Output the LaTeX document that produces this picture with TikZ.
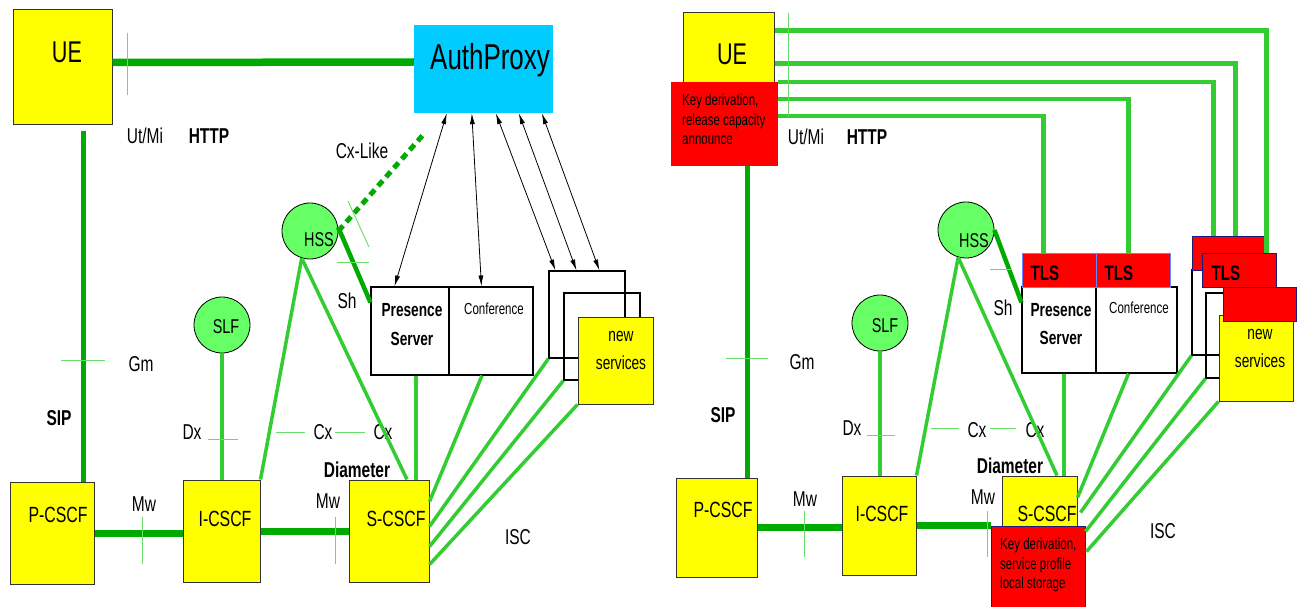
\documentclass[tikz,border=0pt]{standalone}
\usepackage{fontspec}
\setmainfont{Liberation Sans}[FakeStretch=0.72]
\usetikzlibrary{arrows.meta,positioning,calc}
\definecolor{boxyellow}{HTML}{FFFF00}
\definecolor{proxycyan}{HTML}{00CCFF}
\definecolor{sipgreen}{HTML}{00AA00}
\definecolor{linkgreen}{HTML}{33CC33}
\definecolor{tickgreen}{HTML}{66DD66}
\definecolor{dbgreen}{HTML}{66FF66}
\definecolor{keyred}{HTML}{FF0000}
\definecolor{tlsblue}{HTML}{6688FF}
\definecolor{stacknavy}{HTML}{1A1A80}
\tikzset{
  boxsize/.style 2 args={minimum width=#1pt, minimum height=#2pt},
  netbox/.style={draw=black!80, fill=boxyellow, line width=1pt, inner sep=0pt},
  keybox/.style={fill=keyred, inner sep=0pt},
  tlsbox/.style={draw=tlsblue, fill=keyred, line width=0.9pt, inner sep=0pt},
  stackred/.style={draw=stacknavy, fill=keyred, line width=0.9pt, inner sep=0pt},
  appbox/.style={draw=black, fill=white, line width=1.1pt, inner sep=0pt},
  stackbox/.style={draw=black, line width=1.1pt, inner sep=0pt},
  dbnode/.style={circle, draw=black, fill=dbgreen, line width=0.8pt,
    minimum size=56pt, inner sep=0pt},
  % texts
  lbl/.style={anchor=base, inner sep=0pt, font=\fontsize{21.5}{22}\selectfont},
  blbl/.style={anchor=base, inner sep=0pt, font=\fontsize{21.5}{22}\selectfont\bfseries},
  cscftxt/.style={anchor=base, inner sep=0pt, font=\fontsize{22}{22}\selectfont},
  dbtxt/.style={anchor=base, inner sep=0pt, font=\fontsize{20}{20}\selectfont},
  keytxt/.style={anchor=north west, inner sep=0pt, align=left,
    font=\fontsize{16}{19.5}\selectfont},
  tlstxt/.style={anchor=base, inner sep=0pt, font=\fontsize{21}{21}\selectfont\bfseries},
  % connectors
  sipline/.style={sipgreen, line width=5pt},
  mwline/.style={sipgreen, line width=7pt},
  shline/.style={sipgreen, line width=4.5pt},
  link/.style={linkgreen, line width=3.5pt},
  tlsline/.style={linkgreen, line width=4.5pt},
  tick/.style={tickgreen, line width=0.9pt},
  httparrow/.style={{Latex[length=11pt,width=5pt]}-{Latex[length=11pt,width=5pt]},
    black, line width=0.8pt},
}
\begin{document}
\begin{tikzpicture}[x=1pt,y=-1pt]
  \useasboundingbox (0,0) rectangle (1301,607);
  % ===== left: plain IMS with AuthProxy =====
  \node[netbox, boxsize={99}{115}] (ueL) at (62.5,67.5) {};
  \node[fill=proxycyan, inner sep=0pt, boxsize={139}{88}] (proxyL) at (483.5,69) {};
  \node[dbnode] (hssL) at (310,231) {};
  \node[dbnode] (slfL) at (222,325) {};
  \node[netbox, boxsize={84}{102}] (pcscfL) at (52,533) {};
  \node[netbox, boxsize={77}{102}] (icscfL) at (221.5,531) {};
  \node[netbox, boxsize={80}{102}] (scscfL) at (389,531) {};
  \node[appbox, boxsize={78}{88}] (presL) at (410,331) {};
  \node[appbox, boxsize={84}{88}] (confL) at (491,331) {};
  \node[stackbox, boxsize={76}{87}] (svc1L) at (587,314.5) {};
  \node[stackbox, boxsize={76}{87}] (svc2L) at (602,336.5) {};
  \node[netbox, boxsize={75}{87}] (newL) at (615.5,360.5) {};

  % texts
  \node[lbl, font=\fontsize{30}{30}\selectfont] (ueLtxt) at (67,63) {UE};
  \node[lbl, font=\fontsize{36}{36}\selectfont] (proxyLtxt) at (490,70) {AuthProxy};
  \node[dbtxt] (hssLtxt) at (319,246) {HSS};
  \node[dbtxt] (slfLtxt) at (226,333) {SLF};
  \node[cscftxt] (pcscfLtxt) at (58,522) {P-CSCF};
  \node[cscftxt] (icscfLtxt) at (225,526) {I-CSCF};
  \node[cscftxt] (scscfLtxt) at (396,526) {S-CSCF};
  \node[anchor=north, inner sep=0pt, align=center,
        font=\fontsize{19}{29}\selectfont\bfseries] (presLtxt) at (412,303) {Presence\\Server};
  \node[anchor=base, inner sep=0pt, font=\fontsize{16}{16}\selectfont] (confLtxt) at (494,314) {Conference};
  \node[anchor=north, inner sep=0pt, align=center,
        font=\fontsize{19}{28}\selectfont] (newLtxt) at (621,331) {new\\services};
  \node[lbl] (utmiL) at (145,143) {Ut/Mi};
  \node[blbl] (httpL) at (209,143) {HTTP};
  \node[lbl] (cxlike) at (362,158) {Cx-Like};
  \node[lbl] (gmL) at (141,371) {Gm};
  \node[blbl] (sipL) at (59,425) {SIP};
  \node[lbl] (dxL) at (192,439) {Dx};
  \node[lbl] (cxLa) at (323,439) {Cx};
  \node[lbl] (cxLb) at (383,439) {Cx};
  \node[blbl] (diamL) at (357,477) {Diameter};
  \node[lbl] (mwLa) at (144,511) {Mw};
  \node[lbl] (mwLb) at (328,508) {Mw};
  \node[lbl] (iscL) at (518,544) {ISC};
  \node[lbl] (shL) at (347,308) {Sh};

  % connectors
  \draw[sipgreen, line width=7.5pt] ($(ueL.east)+(0,-5)$) -- ($(proxyL.west)+(0,-7)$);
  \draw[sipline] ($(ueL.south)+(20.5,6)$) coordinate (sipTopL) -- (sipTopL |- pcscfL.north);
  \draw[mwline] (pcscfL.east) -- (pcscfL.east -| icscfL.west);
  \draw[mwline] (icscfL.east) -- (icscfL.east -| scscfL.west);
  \draw[link] (slfL.south) -- (slfL.south |- icscfL.north);
  \draw[link] (hssL.-107) -- (icscfL.north east);
  \draw[link] (hssL.-107) -- ($(scscfL.north)+(18,0)$);
  \draw[link] ($(presL.south)+(6,0)$) coordinate (presBotL) -- (presBotL |- scscfL.north);
  \draw[link] ($(confL.south)+(-9,0)$) -- ($(scscfL.north east)+(0,22)$);
  \draw[link] (svc1L.south west) -- ($(scscfL.north east)+(0,47)$);
  \draw[link] (svc2L.south west) -- ($(scscfL.north east)+(0,67)$);
  \draw[link] (newL.south west) -- ($(scscfL.north east)+(0,85)$);
  \draw[shline] (hssL.8) -- ($(presL.north west)+(0,16)$);
  \draw[sipgreen, line width=5pt, dash pattern=on 7pt off 5pt]
    (hssL.east) -- ($(proxyL.south west)+(9,22)$) coordinate (cxlikeEnd);
  \draw[httparrow] ($(proxyL.south west)+(33,0)$) -- ($(presL.north west)+(24,0)$);
  \draw[httparrow] ($(proxyL.south west)+(58,0)$) -- ($(confL.north west)+(33,0)$);
  \draw[httparrow] ($(proxyL.south west)+(82,0)$) -- ($(svc1L.north west)+(7,0)$);
  \draw[httparrow] ($(proxyL.south west)+(105,0)$) -- ($(svc1L.north west)+(28,0)$);
  \draw[httparrow] ($(proxyL.south west)+(128,0)$) -- ($(svc1L.north west)+(51,0)$);

  % reference point ticks
  \draw[tick] (127,33) -- (127,95);
  \draw[tick] (61,360) -- (105,360);
  \draw[tick] (208,439) -- (238,439);
  \draw[tick] (276,432) -- (305,432) (335,432) -- (365,432);
  \draw[tick] (142,517) -- (142,564) (335,517) -- (335,564);
  \draw[tick] (348,201) -- (369,247);
  \draw[tick] (337,262) -- (369,262);

  % ===== right: with key derivation and TLS =====
  \node[netbox, boxsize={91}{70}] (ueR) at (728.5,48) {};
  \node[keybox, boxsize={107}{84}] (keyU) at (724.5,124) {};
  \node[dbnode] (hssR) at (966,230) {};
  \node[dbnode] (slfR) at (880,323) {};
  \node[netbox, boxsize={81}{99}] (pcscfR) at (716.5,527.5) {};
  \node[netbox, boxsize={74}{99}] (icscfR) at (879,525.5) {};
  \node[netbox, boxsize={75}{84}] (scscfR) at (1039.5,518) {};
  \node[stackred, boxsize={94}{86}] (keyS) at (1038,569) {};
  \node[appbox, boxsize={74}{86}] (presR) at (1059,330) {};
  \node[appbox, boxsize={81}{86}] (confR) at (1136.5,330) {};
  \node[tlsbox, boxsize={74}{34}] (tls1) at (1059,270) {};
  \node[tlsbox, boxsize={74}{34}] (tls2) at (1133,270) {};
  \node[stackbox, boxsize={73}{85}] (svc1R) at (1228.5,312.5) {};
  \node[stackred, boxsize={73}{34}] (redA) at (1228.5,253) {};
  \node[stackred, boxsize={74}{34}] (redB) at (1239,270) {};
  \node[stackbox, boxsize={74}{85}] (svc2R) at (1243,335.5) {};
  \node[netbox, boxsize={74}{86}] (newR) at (1256,358) {};
  \node[stackred, boxsize={73}{34}] (redC) at (1259.5,304) {};

  % texts
  \node[lbl, font=\fontsize{30}{30}\selectfont] (ueRtxt) at (732,65) {UE};
  \node[keytxt] (keyUtxt) at (682,94) {Key derivation,\\release capacity\\announce};
  \node[dbtxt] (hssRtxt) at (974,247) {HSS};
  \node[dbtxt] (slfRtxt) at (885,332) {SLF};
  \node[cscftxt] (pcscfRtxt) at (723,517) {P-CSCF};
  \node[cscftxt] (icscfRtxt) at (882,521) {I-CSCF};
  \node[cscftxt] (scscfRtxt) at (1047,521) {S-CSCF};
  \node[keytxt] (keyStxt) at (1000,538) {Key derivation,\\service profile\\local storage};
  \node[anchor=north, inner sep=0pt, align=center,
        font=\fontsize{19}{28}\selectfont\bfseries] (presRtxt) at (1061,303) {Presence\\Server};
  \node[anchor=base, inner sep=0pt, font=\fontsize{16}{16}\selectfont] (confRtxt) at (1139,313) {Conference};
  \node[tlstxt] (tls1txt) at (1045,280) {TLS};
  \node[tlstxt] (tls2txt) at (1119,280) {TLS};
  \node[tlstxt] (tls3txt) at (1226,280) {TLS};
  \node[anchor=north, inner sep=0pt, align=center,
        font=\fontsize{19}{28}\selectfont] (newRtxt) at (1260,329) {new\\services};
  \node[lbl] (utmiR) at (806,145) {Ut/Mi};
  \node[blbl] (httpR) at (867,145) {HTTP};
  \node[lbl] (shR) at (1003,315) {Sh};
  \node[lbl] (gmR) at (802,369) {Gm};
  \node[blbl] (sipR) at (723,422) {SIP};
  \node[lbl] (dxR) at (852,435) {Dx};
  \node[lbl] (cxRa) at (977,437) {Cx};
  \node[lbl] (cxRb) at (1035,437) {Cx};
  \node[blbl] (diamR) at (1010,473) {Diameter};
  \node[lbl] (mwRa) at (805,506) {Mw};
  \node[lbl] (mwRb) at (983,504) {Mw};
  \node[lbl] (iscR) at (1163,538) {ISC};

  % TLS links from the UE
  \draw[tlsline] ($(ueR.north east)+(0,18)$) -| ($(redB.north west)+(65,0)$);
  \draw[tlsline] ($(ueR.north east)+(0,51)$) -| ($(redA.north west)+(44,0)$);
  \draw[tlsline] ($(keyU.north east)+(0,0)$) -| ($(redA.north west)+(22,0)$);
  \draw[tlsline] ($(keyU.north east)+(0,17)$) -| ($(tls2.north west)+(33,0)$);
  \draw[tlsline] ($(keyU.north east)+(0,34)$) -| ($(tls1.north west)+(22,0)$);

  % connectors
  \draw[sipline] ($(keyU.south)+(22.5,0)$) coordinate (sipTopR) -- (sipTopR |- pcscfR.north);
  \draw[mwline] (pcscfR.east) -- (pcscfR.east -| icscfR.west);
  \draw[mwline] (icscfR.east) -- (icscfR.east -| keyS.west);
  \draw[link] (slfR.south) -- (slfR.south |- icscfR.north);
  \draw[link] (hssR.-106) -- (icscfR.north east);
  \draw[link] (hssR.-106) -- ($(scscfR.north)+(17.5,0)$);
  \draw[link] ($(presR.south)+(5,0)$) coordinate (presBotR) -- (presBotR |- scscfR.north);
  \draw[link] ($(confR.south)+(-8,0)$) -- ($(scscfR.north east)+(0,22)$);
  \draw[link] (svc1R.south west) -- ($(scscfR.north east)+(3,37)$);
  \draw[link] (svc2R.south west) -- ($(keyS.north east)+(0,6)$);
  \draw[link] (newR.south west) -- ($(keyS.north east)+(1,26)$);
  \draw[shline] (hssR.east) -- ($(presR.north west)+(0,16)$);

  % reference point ticks
  \draw[tick] (788,13) -- (788,116);
  \draw[tick] (726,358) -- (768,358);
  \draw[tick] (867,435) -- (895,435);
  \draw[tick] (931,428) -- (959,428) (990,428) -- (1016,428);
  \draw[tick] (804,511) -- (804,557) (987,511) -- (987,557);
  \draw[tick] (990,269) -- (1011,269);
\end{tikzpicture}
\end{document}
